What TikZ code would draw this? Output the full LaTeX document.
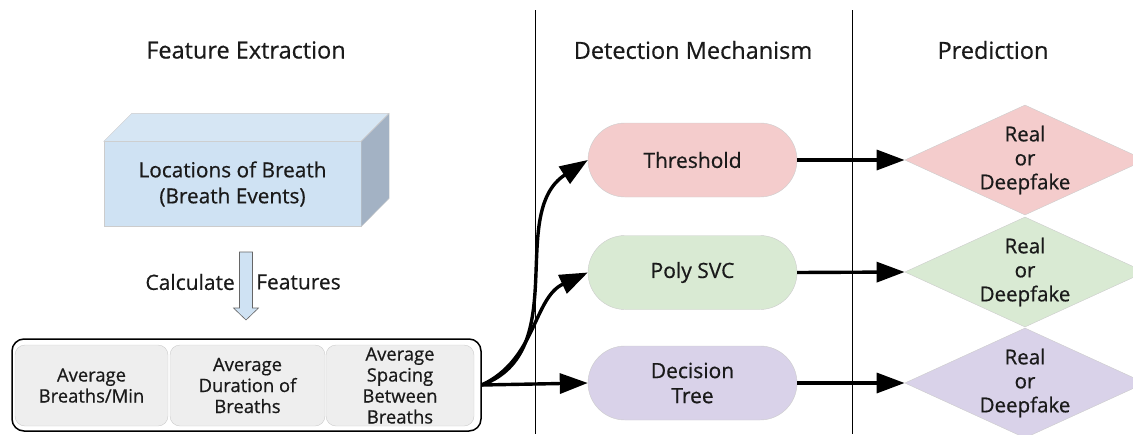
\documentclass[tikz,border=0pt]{standalone}
\usepackage{fontspec}
\setmainfont{Open Sans}[UprightFeatures={FakeBold=0.6}]
\usetikzlibrary{arrows.meta,shapes.misc,shapes.geometric}
\definecolor{pinkf}{HTML}{F4CCCC}
\definecolor{greenf}{HTML}{D9EAD3}
\definecolor{purplef}{HTML}{D9D2E9}
\definecolor{bluef}{HTML}{CFE2F3}
\definecolor{bluetop}{HTML}{D6E6F4}
\definecolor{blueside}{HTML}{A3B2C4}
\definecolor{cellf}{HTML}{EEEEEE}
\definecolor{edgegray}{HTML}{CCCCCC}
\definecolor{ink}{HTML}{1A1A1A}
\begin{document}
\begin{tikzpicture}[x=1pt,y=-1pt, text=ink,
  title/.style={font=\fontsize{23.5}{28}\selectfont},
  method/.style={rounded rectangle, draw=edgegray, minimum width=209, minimum height=74, inner sep=0, font=\fontsize{21}{25}\selectfont, align=center},
  outcome/.style={diamond, draw=edgegray, minimum width=236, minimum height=108, shape aspect=2.185, inner sep=0, font=\fontsize{20.5}{24}\selectfont, align=center},
  cell/.style={draw=edgegray, fill=cellf, rounded corners=10, inner sep=0, font=\fontsize{18.4}{21}\selectfont, align=center},
  flow/.style={line width=3.4, -{Triangle[length=28,width=20]}},
  sep/.style={line width=0.8}]
\useasboundingbox (0,0) rectangle (1133,434);
\clip (0,0) rectangle (1133,434);
% separators
\draw[sep] (535,10) coordinate (s1t) -- (535,434) coordinate (s1b);
\draw[sep] (852,10) coordinate (s2t) -- (852,434) coordinate (s2b);
% titles
\node[title] (t1) at (246,50) {Feature Extraction};
\node[title] (t2) at (693,50) {Detection Mechanism};
\node[title] (t3) at (993,50) {Prediction};
% 3D box
\node[draw=edgegray, fill=bluef, minimum width=257, minimum height=85, inner sep=0, font=\fontsize{20.8}{26}\selectfont, align=center] (loc) at (232.5,184) {Locations of Breath\\(Breath Events)};
\fill[bluetop, draw=edgegray] (loc.north west) -- ++(28,-28) -- ++(257,0) -- (loc.north east) -- cycle;
\fill[blueside, draw=edgegray] (loc.north east) -- ++(28,-28) -- ++(0,85) -- (loc.south east) -- cycle;
% block arrow
\node[inner sep=0, font=\fontsize{21}{24}\selectfont, anchor=east] (calc) at (235,282) {Calculate};
\node[inner sep=0, font=\fontsize{21}{24}\selectfont, anchor=west] (feat) at (256,282) {Features};
\filldraw[fill=bluef, draw=gray!80!black, line width=0.6] (239.5,252) -- (252.5,252) -- (252.5,308) -- (258.5,308) -- (246,320) -- (233.5,308) -- (239.5,308) -- cycle;
% feature container
\node[draw=black, line width=1.5, rounded corners=12, minimum width=469, minimum height=92, inner sep=0] (feats) at (246.5,385) {};
\node[cell, minimum width=153, minimum height=81] (c1) at (91.5,385.5) {Average\\Breaths/Min};
\node[cell, minimum width=155, minimum height=81] (c2) at (247.5,385.5) {Average\\Duration of\\Breaths};
\node[cell, minimum width=148, minimum height=81] (c3) at (400,385.5) {Average\\Spacing\\Between\\Breaths};
% methods
\node[method, fill=pinkf] (thr) at (692.5,160) {Threshold};
\node[method, fill=greenf] (svc) at (692.5,272.5) {Poly SVC};
\node[method, fill=purplef] (dt) at (692.5,383) {Decision\\Tree};
% outcomes
\node[outcome, fill=pinkf] (o1) at (1025,160) {Real\\or\\Deepfake};
\node[outcome, fill=greenf] (o2) at (1025,272) {Real\\or\\Deepfake};
\node[outcome, fill=purplef] (o3) at (1025,383) {Real\\or\\Deepfake};
% connectors
\draw[flow] (feats.east) to[out=20, in=213] (thr.west);
\draw[flow] (feats.east) to[out=25, in=205] (svc.west);
\draw[flow] (feats.east) -- (dt.west);
\draw[flow] (thr.east) -- (o1.west);
\draw[flow] (svc.east) -- (o2.west);
\draw[flow] (dt.east) -- (o3.west);
\end{tikzpicture}
\end{document}
